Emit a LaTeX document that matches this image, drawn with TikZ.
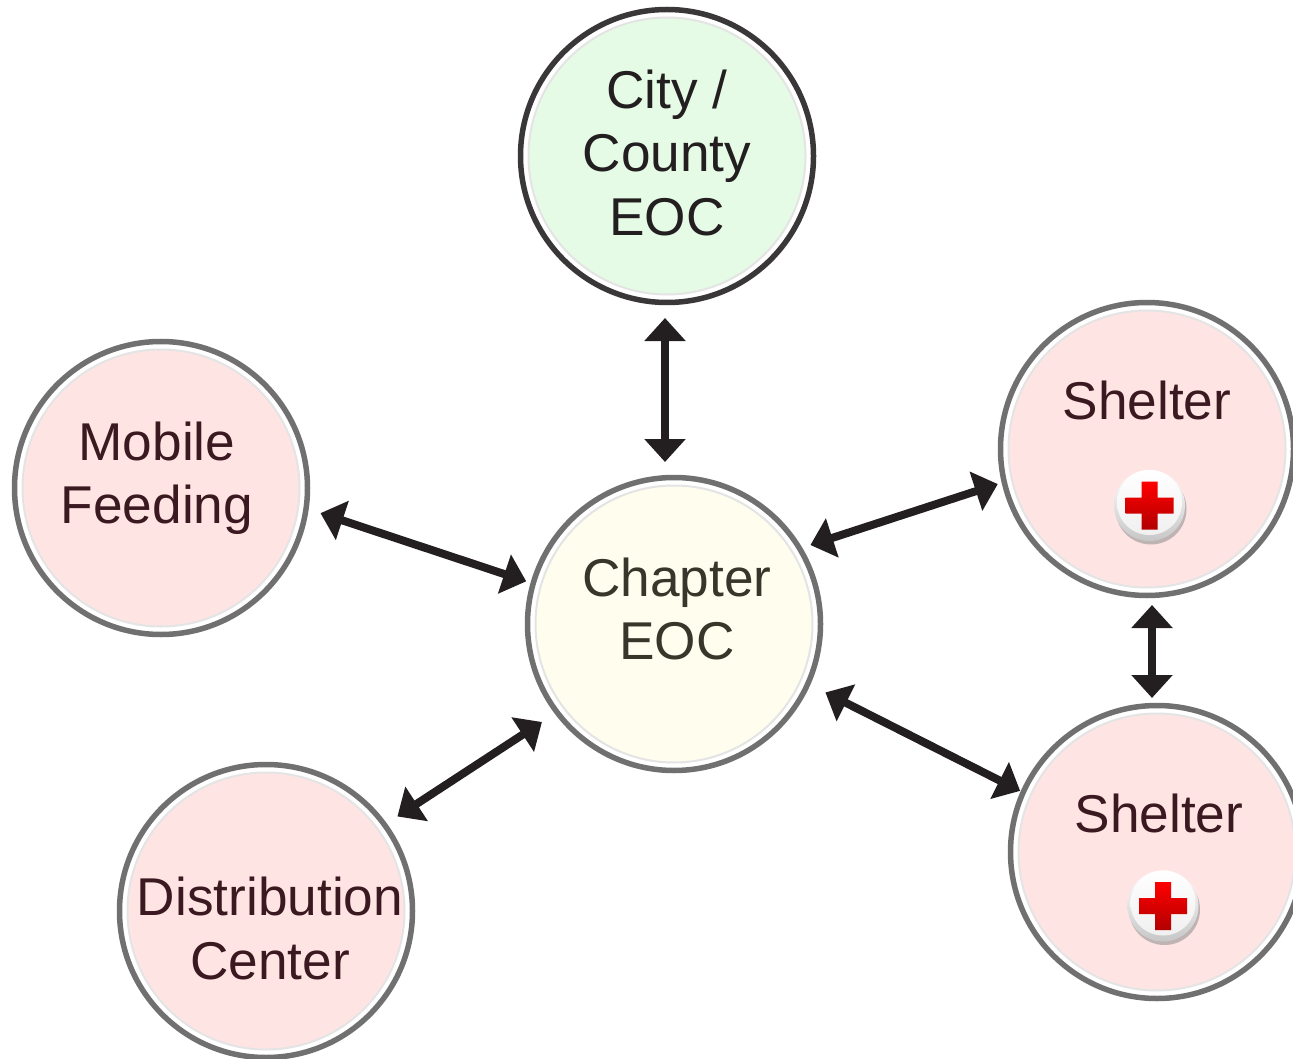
\documentclass[tikz,border=0pt]{standalone}
\usepackage{fontspec}
\setmainfont{Liberation Sans}
\usetikzlibrary{arrows.meta}
\definecolor{ringgray}{HTML}{707070}
\definecolor{ringdark}{HTML}{3A3738}
\definecolor{innerring}{HTML}{E4E4E4}
\definecolor{pinkfill}{HTML}{FFE4E4}
\definecolor{greenfill}{HTML}{E5FBE5}
\definecolor{creamfill}{HTML}{FFFDEE}
\definecolor{arrowink}{HTML}{231F20}
\definecolor{pinktext}{HTML}{3A1A20}
\definecolor{creamtext}{HTML}{38352A}
\tikzset{
  x=1pt,y=-1pt,
  ring/.style={circle,draw=ringgray,line width=5.5pt,fill=white,inner sep=0pt,outer sep=0pt,minimum size=293pt},
  face/.style={circle,draw=innerring,line width=2pt,inner sep=0pt,outer sep=0pt,minimum size=277pt},
  lbl/.style={font=\fontsize{53.2}{63.5}\selectfont,align=center,inner sep=0pt,text=pinktext},
  biarrow/.style={{Triangle[length=23pt,width=40pt]}-{Triangle[length=23pt,width=40pt]},draw=arrowink,line width=8pt},
  redbutton/.pic={
    \fill[black!45,opacity=.55] (1.5,3.5) circle[radius=35.5];
    \shade[top color=white,bottom color=black!22] (0,0) circle[radius=35.5];
    \shade[top color=white,bottom color=black!6] (0,-3) circle[radius=32.5];
    \shade[top color=red,middle color=red!92!black,bottom color=red!70!black]
      (-8,-24) -- (8,-24) -- (8,-8) -- (24,-8) -- (24,8) -- (8,8) -- (8,24) -- (-8,24) -- (-8,8) -- (-24,8) -- (-24,-8) -- (-8,-8) -- cycle;
  }
}
\begin{document}
\begin{tikzpicture}
\useasboundingbox (0,0) rectangle (1293,1059);
\clip (0,0) rectangle (1293,1059);
% circles
\node[ring,draw=ringdark] (city) at (667,156) {};
\node[face,fill=greenfill] (cityface) at (city) {};
\node[ring] (mobile) at (161,488) {};
\node[face,fill=pinkfill] (mobileface) at (mobile) {};
\node[ring] (chapter) at (674,624) {};
\node[face,fill=creamfill] (chapterface) at (chapter) {};
\node[ring] (shelterA) at (1147,449) {};
\node[face,fill=pinkfill] (shelterAface) at (shelterA) {};
\node[ring] (shelterB) at (1157,852) {};
\node[face,fill=pinkfill] (shelterBface) at (shelterB) {};
\node[ring] (dist) at (266,911) {};
\node[face,fill=pinkfill] (distface) at (dist) {};
% labels
\node[lbl,text=arrowink] (citytext) at (667,152.5) {City /\\County\\EOC};
\node[lbl] (mobiletext) at (157,478) {Mobile\\Feeding};
\node[lbl,text=creamtext] (chaptertext) at (677,609) {Chapter\\EOC};
\node[lbl] (shelterAtext) at (1147,400) {Shelter};
\node[lbl] (shelterBtext) at (1159,813) {Shelter};
\node[lbl] (disttext) at (270,928.5) {Distribution\\Center};
% emblems
\pic at (1149.5,505.5) {redbutton};
\pic at (1163,906) {redbutton};
% connectors
\draw[biarrow,shorten <=15.5pt,shorten >=15.5pt] ([xshift=-2pt]city.south) -- ([xshift=-9pt]chapter.north);
\draw[biarrow,shorten <=15.2pt,shorten >=7.3pt] (mobile.352.7) -- (chapter.164.9);
\draw[biarrow,shorten <=11.4pt,shorten >=6.8pt] (chapter.31.9) -- (shelterA.193.85);
\draw[biarrow,shorten <=19.7pt,shorten >=3.4pt] (chapter.336.4) -- (shelterB.156.1);
\draw[biarrow,shorten <=15.4pt,shorten >=18pt] (dist.36.8) -- (chapter.217.3);
\draw[biarrow,shorten <=9.5pt,shorten >=7.5pt] ([xshift=5pt]shelterA.south) -- ([xshift=-5pt]shelterB.north);
\end{tikzpicture}
\end{document}
